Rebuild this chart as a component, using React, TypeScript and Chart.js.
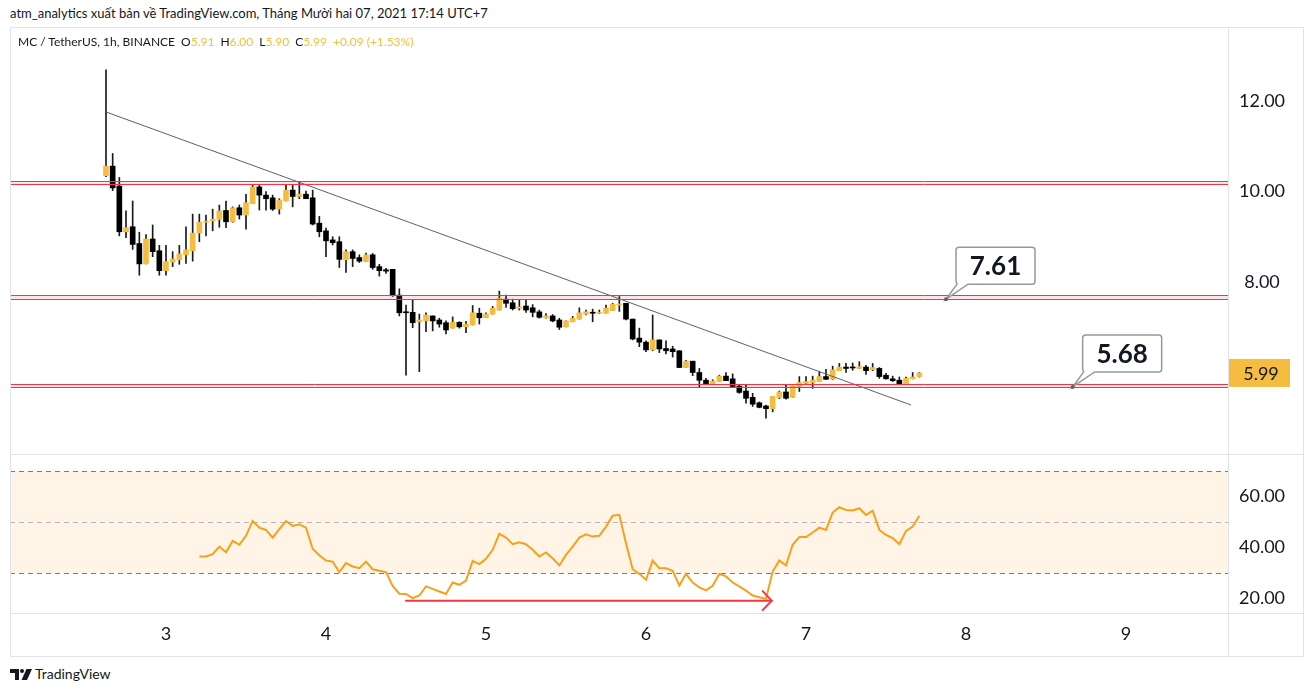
import React, { useEffect, useRef } from "react";
import { Chart, registerables } from "chart.js";

Chart.register(...registerables);

const FONT = "Lato, 'Open Sans', sans-serif";
const UP = "#f5bd3f";
const DOWN = "#000000";
const WICK = "#1a1a1a";
const TEXT = "#131722";
const FRAME = "#e0e3eb";

// hour offset of the first candle, relative to Dec 3 00:00 (UTC+7)
const firstCandleHour = -9;
const xMinHour = -23.4;
const xMaxHour = 159.3;

const opens = [
  10.35, 10.56, 10.12, 9.11, 9.22, 8.85, 8.4, 8.95, 8.69, 8.25, 8.44, 8.49, 8.6, 8.69, 9.08, 9.32, 9.35, 9.38, 9.58, 9.33,
  9.64, 9.48, 9.73, 10.1, 9.92, 9.86, 9.61, 9.79, 10.03, 9.89, 9.94, 9.86, 9.3, 9.13, 8.93, 8.89, 8.49, 8.67, 8.54, 8.45,
  8.6, 8.34, 8.27, 8.28, 7.71, 7.33, 7.33, 7.12, 7.14, 7.25, 7.16, 7.1, 6.98, 7.11, 7.01, 7.05, 7.31, 7.21, 7.29, 7.38,
  7.62, 7.54, 7.42, 7.47, 7.43, 7.34, 7.21, 7.25, 7.16, 7.01, 7.12, 7.18, 7.29, 7.33, 7.31, 7.31, 7.37, 7.49, 7.53, 7.18,
  6.76, 6.67, 6.5, 6.72, 6.53, 6.52, 6.48, 6.11, 6.25, 6.0, 5.83, 5.75, 5.8, 5.92, 5.86, 5.7, 5.59, 5.45, 5.33, 5.26,
  5.2, 5.44, 5.57, 5.45, 5.69, 5.76, 5.78, 5.8, 5.91, 5.85, 6.04, 6.12, 6.12, 6.09, 6.12, 6.06, 6.09, 5.94, 5.86, 5.83,
  5.75, 5.86, 5.91,
];
const highs = [
  12.69, 10.84, 10.31, 9.57, 9.79, 9.1, 9.05, 9.26, 8.81, 8.81, 8.67, 8.81, 9.22, 9.5, 9.5, 9.48, 9.61, 9.7, 9.79, 9.66,
  9.7, 9.94, 10.14, 10.15, 10.0, 9.92, 9.84, 10.14, 10.15, 10.22, 10.01, 10.03, 9.45, 9.19, 9.0, 9.0, 8.71, 8.71, 8.6, 8.64,
  8.63, 8.39, 8.3, 8.28, 7.85, 7.49, 7.6, 7.29, 7.32, 7.25, 7.2, 7.14, 7.23, 7.12, 7.13, 7.48, 7.42, 7.32, 7.46, 7.8,
  7.71, 7.62, 7.61, 7.6, 7.5, 7.38, 7.3, 7.28, 7.2, 7.14, 7.24, 7.43, 7.38, 7.4, 7.38, 7.49, 7.53, 7.68, 7.53, 7.18,
  6.98, 6.7, 7.27, 6.72, 6.7, 6.58, 6.48, 6.27, 6.25, 6.09, 5.87, 5.84, 5.94, 6.0, 5.97, 5.72, 5.72, 5.54, 5.35, 5.28,
  5.47, 5.59, 5.72, 5.7, 5.91, 5.91, 5.92, 6.02, 6.07, 6.14, 6.2, 6.2, 6.21, 6.24, 6.16, 6.2, 6.11, 5.98, 5.92, 5.9,
  5.9, 6.0, 6.0,
];
const lows = [
  10.33, 10.02, 9.02, 8.98, 8.72, 8.15, 8.4, 8.56, 8.15, 8.15, 8.34, 8.39, 8.41, 8.46, 8.89, 9.02, 9.13, 9.21, 9.2, 9.32,
  9.39, 9.17, 9.73, 9.59, 9.59, 9.58, 9.5, 9.79, 9.66, 9.84, 9.84, 9.26, 9.0, 8.56, 8.82, 8.32, 8.21, 8.34, 8.43, 8.45,
  8.28, 8.13, 8.19, 7.68, 7.25, 5.94, 6.99, 6.02, 6.9, 6.92, 7.0, 6.85, 6.98, 6.98, 6.88, 7.05, 7.07, 7.21, 7.29, 7.38,
  7.44, 7.38, 7.38, 7.33, 7.23, 7.2, 7.2, 7.12, 6.95, 7.01, 7.12, 7.18, 7.27, 7.12, 7.3, 7.31, 7.37, 7.35, 7.16, 6.72,
  6.57, 6.46, 6.48, 6.44, 6.41, 6.34, 6.11, 6.11, 5.93, 5.67, 5.73, 5.73, 5.8, 5.82, 5.68, 5.54, 5.32, 5.25, 5.22, 4.99,
  5.13, 5.42, 5.41, 5.45, 5.58, 5.75, 5.65, 5.8, 5.84, 5.84, 6.04, 6.0, 6.05, 6.09, 5.96, 6.04, 5.87, 5.85, 5.8, 5.75,
  5.75, 5.86, 5.9,
];
const closes = [
  10.56, 10.08, 9.11, 9.2, 8.83, 8.4, 8.95, 8.67, 8.25, 8.45, 8.51, 8.62, 8.71, 9.08, 9.32, 9.34, 9.39, 9.57, 9.33, 9.64,
  9.48, 9.75, 10.1, 9.92, 9.84, 9.61, 9.81, 10.03, 9.89, 9.94, 9.84, 9.28, 9.11, 8.91, 8.87, 8.5, 8.67, 8.52, 8.46, 8.6,
  8.32, 8.25, 8.24, 7.71, 7.32, 7.32, 7.1, 7.16, 7.27, 7.14, 7.07, 6.94, 7.11, 7.01, 7.07, 7.32, 7.21, 7.29, 7.42, 7.64,
  7.53, 7.41, 7.45, 7.38, 7.33, 7.22, 7.25, 7.14, 7.0, 7.14, 7.2, 7.32, 7.34, 7.31, 7.33, 7.42, 7.51, 7.51, 7.18, 6.74,
  6.67, 6.5, 6.72, 6.52, 6.48, 6.46, 6.11, 6.25, 6.0, 5.83, 5.75, 5.81, 5.92, 5.82, 5.69, 5.56, 5.43, 5.3, 5.23, 5.2,
  5.47, 5.57, 5.43, 5.7, 5.78, 5.8, 5.83, 5.91, 5.85, 6.06, 6.12, 6.09, 6.1, 6.13, 6.04, 6.11, 5.91, 5.86, 5.82, 5.75,
  5.87, 5.9, 5.99,
];

const rsiStartIndex = 14;
const rsiValues = [
  36.5, 36.5, 37.4, 40.4, 38.2, 42.6, 41.1, 44.6, 50.4, 47.8, 46.9, 43.9, 47.2, 50.4, 48.5, 49.1, 47.8, 39.5, 37.0, 34.9,
  34.5, 30.4, 33.9, 32.6, 31.9, 34.5, 31.5, 30.9, 30.4, 25.0, 21.9, 21.8, 20.2, 21.2, 24.8, 23.8, 22.8, 21.8, 26.3, 25.4,
  27.1, 34.8, 33.5, 35.6, 39.1, 45.4, 43.9, 41.3, 42.1, 41.3, 39.1, 36.5, 38.1, 35.8, 33.0, 37.1, 40.4, 43.9, 45.2, 44.3,
  44.6, 48.2, 52.5, 52.8, 41.7, 31.5, 29.7, 27.4, 34.9, 31.9, 31.9, 30.9, 25.1, 29.7, 26.3, 24.4, 23.2, 25.0, 29.7, 28.7,
  26.3, 24.8, 23.1, 21.2, 20.5, 19.9, 30.6, 34.9, 33.0, 41.1, 44.1, 44.1, 45.9, 47.8, 46.9, 53.7, 55.8, 54.7, 54.5, 55.4,
  52.8, 54.4, 46.9, 45.0, 43.7, 41.3, 46.5, 48.2, 52.5,
];

const dayTickHours = [0, 24, 48, 72, 96, 120, 144];
const dayLabels = ["3", "4", "5", "6", "7", "8", "9"];
const priceTicks = [8, 10, 12];
const rsiTicks = [20, 40, 60];
const priceMin = 4.199;
const priceMax = 13.635;
const rsiMin = 14.36;
const rsiMax = 76.65;

const levelLows = [10.16, 7.62, 5.68];
const levelHighs = [10.23, 7.71, 5.75];

const calloutLabels = ["7.61", "5.68"];
const calloutHours = [117, 136];
const calloutPrices = [7.62, 5.68];

const trendHours = [-9, 111.75];
const trendPrices = [11.757, 5.282];

const arrowHours = [36, 90.85];
const arrowRsi = [19.2, 19.2];

const rsiUpper = 70;
const rsiMiddle = 50;
const rsiLower = 30;

const fmt = (v: number) => v.toFixed(2);

export default function App() {
  const priceRef = useRef<HTMLCanvasElement | null>(null);
  const rsiRef = useRef<HTMLCanvasElement | null>(null);

  useEffect(() => {
    const hours = opens.map((_, i) => firstCandleHour + i);
    const colors = opens.map((o, i) => (closes[i] >= o ? UP : DOWN));
    const bodies = opens.map((o, i) => ({ x: hours[i], y: [o, closes[i]] }));
    const wicks = opens.map((_, i) => ({ x: hours[i], y: [lows[i], highs[i]] }));
    const trend = trendHours.map((h, i) => ({ x: h, y: trendPrices[i] }));
    const rsi = rsiValues.map((v, i) => ({ x: hours[rsiStartIndex + i], y: v }));
    const lastClose = closes[closes.length - 1];

    const tickFont = { family: FONT, size: 18 };

    const levelPlugin = {
      id: "levels",
      afterDatasetsDraw(chart: any) {
        const { ctx, chartArea, scales } = chart;
        const y = scales.y;
        ctx.save();
        levelLows.forEach((lo, i) => {
          const yl = y.getPixelForValue(lo);
          const yh = y.getPixelForValue(levelHighs[i]);
          ctx.fillStyle = "rgba(242,54,69,0.13)";
          ctx.fillRect(chartArea.left, yh, chartArea.right - chartArea.left, yl - yh);
          ctx.strokeStyle = "#f23645";
          ctx.lineWidth = 1;
          [yl, yh].forEach((yy) => {
            const py = Math.round(yy) + 0.5;
            ctx.beginPath();
            ctx.moveTo(chartArea.left, py);
            ctx.lineTo(chartArea.right, py);
            ctx.stroke();
          });
        });
        ctx.restore();
      },
      afterDraw(chart: any) {
        const { ctx, chartArea, scales } = chart;
        const x = scales.x;
        const y = scales.y;
        ctx.save();
        calloutLabels.forEach((label, i) => {
          const ax = x.getPixelForValue(calloutHours[i]);
          const ay = y.getPixelForValue(calloutPrices[i]);
          const bw = 79;
          const bh = 37;
          const bx = ax + 10;
          const by = ay - 15 - bh;
          const r = 3;
          ctx.beginPath();
          ctx.moveTo(bx + r, by);
          ctx.lineTo(bx + bw - r, by);
          ctx.quadraticCurveTo(bx + bw, by, bx + bw, by + r);
          ctx.lineTo(bx + bw, by + bh - r);
          ctx.quadraticCurveTo(bx + bw, by + bh, bx + bw - r, by + bh);
          ctx.lineTo(bx + 12, by + bh);
          ctx.lineTo(ax, ay);
          ctx.lineTo(bx + 1, by + bh);
          ctx.lineTo(bx, by + bh - r);
          ctx.lineTo(bx, by + r);
          ctx.quadraticCurveTo(bx, by, bx + r, by);
          ctx.closePath();
          ctx.fillStyle = "#ffffff";
          ctx.fill();
          ctx.strokeStyle = "#9598a1";
          ctx.lineWidth = 1.5;
          ctx.stroke();
          ctx.fillStyle = "#5d606b";
          ctx.beginPath();
          ctx.arc(ax, ay, 2, 0, Math.PI * 2);
          ctx.fill();
          ctx.fillStyle = TEXT;
          ctx.font = `bold 26px ${FONT}`;
          ctx.textAlign = "center";
          ctx.textBaseline = "middle";
          ctx.fillText(label, bx + bw / 2, by + bh / 2 + 1);
        });
        const py = y.getPixelForValue(lastClose);
        ctx.fillStyle = UP;
        ctx.fillRect(chartArea.right, py - 14, 62, 28);
        ctx.fillStyle = TEXT;
        ctx.font = `18px ${FONT}`;
        ctx.textAlign = "center";
        ctx.textBaseline = "middle";
        ctx.fillText(fmt(lastClose), chartArea.right + 33, py + 1);
        ctx.restore();
      },
    };

    const rsiPlugin = {
      id: "rsiBand",
      beforeDatasetsDraw(chart: any) {
        const { ctx, chartArea, scales } = chart;
        const y = scales.y;
        const yu = y.getPixelForValue(rsiUpper);
        const yl = y.getPixelForValue(rsiLower);
        const ym = y.getPixelForValue(rsiMiddle);
        ctx.save();
        ctx.fillStyle = "rgba(255,152,0,0.1)";
        ctx.fillRect(chartArea.left, yu, chartArea.right - chartArea.left, yl - yu);
        ctx.lineWidth = 1;
        ctx.setLineDash([5, 4]);
        [
          [yu, "#787b86"],
          [yl, "#787b86"],
          [ym, "#b2b5be"],
        ].forEach(([yy, c]: any) => {
          ctx.strokeStyle = c;
          ctx.beginPath();
          ctx.moveTo(chartArea.left, Math.round(yy) + 0.5);
          ctx.lineTo(chartArea.right, Math.round(yy) + 0.5);
          ctx.stroke();
        });
        ctx.restore();
      },
      afterDatasetsDraw(chart: any) {
        const { ctx, scales } = chart;
        const x1 = scales.x.getPixelForValue(arrowHours[0]);
        const x2 = scales.x.getPixelForValue(arrowHours[1]);
        const y1 = scales.y.getPixelForValue(arrowRsi[0]);
        const y2 = scales.y.getPixelForValue(arrowRsi[1]);
        ctx.save();
        ctx.strokeStyle = "#f23645";
        ctx.lineWidth = 2;
        ctx.lineCap = "round";
        ctx.beginPath();
        ctx.moveTo(x1, y1);
        ctx.lineTo(x2, y2);
        ctx.stroke();
        ctx.beginPath();
        ctx.moveTo(x2 - 9, y2 - 9.5);
        ctx.lineTo(x2, y2);
        ctx.lineTo(x2 - 9, y2 + 9.5);
        ctx.stroke();
        ctx.restore();
      },
    };

    const priceChart = new Chart(priceRef.current as HTMLCanvasElement, {
      type: "bar",
      data: {
        datasets: [
          {
            type: "line",
            data: trend,
            borderColor: "#5d606b",
            borderWidth: 1,
            pointRadius: 0,
            tension: 0,
          } as any,
          {
            type: "bar",
            data: bodies,
            backgroundColor: colors,
            barThickness: 5,
            grouped: false,
            minBarLength: 1,
            borderWidth: 0,
          } as any,
          {
            type: "bar",
            data: wicks,
            backgroundColor: WICK,
            barThickness: 1,
            grouped: false,
            minBarLength: 1,
            borderWidth: 0,
          } as any,
        ],
      },
      options: {
        responsive: false,
        animation: false,
        events: [],
        layout: { padding: 0 },
        plugins: { legend: { display: false }, tooltip: { enabled: false } },
        scales: {
          x: {
            type: "linear",
            display: false,
            min: xMinHour,
            max: xMaxHour,
            offset: false,
          },
          y: {
            type: "linear",
            position: "right",
            min: priceMin,
            max: priceMax,
            grid: { display: false },
            border: { display: false },
            afterBuildTicks: (s: any) => {
              s.ticks = priceTicks.map((v) => ({ value: v }));
            },
            afterFit: (s: any) => {
              s.width = 76;
              s.paddingTop = 0;
              s.paddingBottom = 0;
            },
            ticks: {
              font: tickFont,
              color: TEXT,
              crossAlign: "center",
              callback: (v: any) => fmt(Number(v)),
            },
          },
        },
      } as any,
      plugins: [levelPlugin],
    });

    const rsiChart = new Chart(rsiRef.current as HTMLCanvasElement, {
      type: "line",
      data: {
        datasets: [
          {
            data: rsi,
            borderColor: "#f7a11a",
            borderWidth: 2,
            pointRadius: 0,
            tension: 0,
          },
        ],
      },
      options: {
        responsive: false,
        animation: false,
        events: [],
        layout: { padding: 0 },
        plugins: { legend: { display: false }, tooltip: { enabled: false } },
        scales: {
          x: {
            type: "linear",
            min: xMinHour,
            max: xMaxHour,
            offset: false,
            grid: { display: false, drawTicks: false },
            border: { display: false },
            afterBuildTicks: (s: any) => {
              s.ticks = dayTickHours.map((v) => ({ value: v }));
            },
            afterFit: (s: any) => {
              s.height = 44;
              s.paddingLeft = 0;
              s.paddingRight = 0;
            },
            ticks: {
              font: tickFont,
              color: TEXT,
              padding: 10,
              autoSkip: false,
              maxRotation: 0,
              callback: (_v: any, i: number) => dayLabels[i],
            },
          },
          y: {
            type: "linear",
            position: "right",
            min: rsiMin,
            max: rsiMax,
            grid: { display: false },
            border: { display: false },
            afterBuildTicks: (s: any) => {
              s.ticks = rsiTicks.map((v) => ({ value: v }));
            },
            afterFit: (s: any) => {
              s.width = 76;
              s.paddingTop = 0;
              s.paddingBottom = 0;
            },
            ticks: {
              font: tickFont,
              color: TEXT,
              crossAlign: "center",
              callback: (v: any) => fmt(Number(v)),
            },
          },
        },
      } as any,
      plugins: [rsiPlugin],
    });

    return () => {
      priceChart.destroy();
      rsiChart.destroy();
    };
  }, []);

  const n = closes.length;
  const change = closes[n - 1] - closes[n - 2];
  const changePct = (change / closes[n - 2]) * 100;
  const sign = change >= 0 ? "+" : "";

  const line = (left: number, top: number, width: number, height: number) => (
    <div style={{ position: "absolute", left, top, width, height, background: FRAME }} />
  );

  return (
    <div
      style={{
        position: "fixed",
        left: 0,
        top: 0,
        width: 1314,
        height: 692,
        background: "#ffffff",
        fontFamily: FONT,
        color: TEXT,
        overflow: "hidden",
      }}
    >
      <div style={{ position: "absolute", left: 10, top: 5, fontSize: 13, lineHeight: "16px", whiteSpace: "nowrap" }}>
        atm_analytics xuất bản về TradingView.com, Tháng Mười hai 07, 2021 17:14 UTC+7
      </div>

      <canvas ref={priceRef} width={1294} height={427} style={{ position: "absolute", left: 10, top: 27, width: 1294, height: 427 }} />
      <canvas ref={rsiRef} width={1294} height={203} style={{ position: "absolute", left: 10, top: 454, width: 1294, height: 203 }} />

      {line(10, 27, 1294, 1)}
      {line(10, 656, 1294, 1)}
      {line(10, 27, 1, 630)}
      {line(1303, 27, 1, 630)}
      {line(1228, 27, 1, 630)}
      {line(10, 454, 1294, 1)}
      {line(10, 613, 1294, 1)}

      <div style={{ position: "absolute", left: 18, top: 34, fontSize: 12, lineHeight: "16px", whiteSpace: "nowrap" }}>
        MC / TetherUS, 1h, BINANCE
        <span style={{ marginLeft: 6 }}>
          O<span style={{ color: UP }}>{fmt(opens[n - 1])}</span>
        </span>
        <span style={{ marginLeft: 6 }}>
          H<span style={{ color: UP }}>{fmt(highs[n - 1])}</span>
        </span>
        <span style={{ marginLeft: 6 }}>
          L<span style={{ color: UP }}>{fmt(lows[n - 1])}</span>
        </span>
        <span style={{ marginLeft: 6 }}>
          C<span style={{ color: UP }}>{fmt(closes[n - 1])}</span>
        </span>
        <span style={{ marginLeft: 6, color: UP }}>
          {sign}
          {fmt(change)} ({sign}
          {fmt(changePct)}%)
        </span>
      </div>

      <div style={{ position: "absolute", left: 10, top: 666, display: "flex", alignItems: "center", height: 16 }}>
        <svg width="22" height="11" viewBox="0 0 22 11" style={{ display: "block" }}>
          <path d="M0 0 H9 V11 H5 V4 H0 Z" fill={TEXT} />
          <circle cx="12" cy="2" r="2" fill={TEXT} />
          <path d="M16.5 0 H22 L17 11 H11.5 Z" fill={TEXT} />
        </svg>
        <span style={{ marginLeft: 3, fontSize: 14, lineHeight: "16px" }}>TradingView</span>
      </div>
    </div>
  );
}
